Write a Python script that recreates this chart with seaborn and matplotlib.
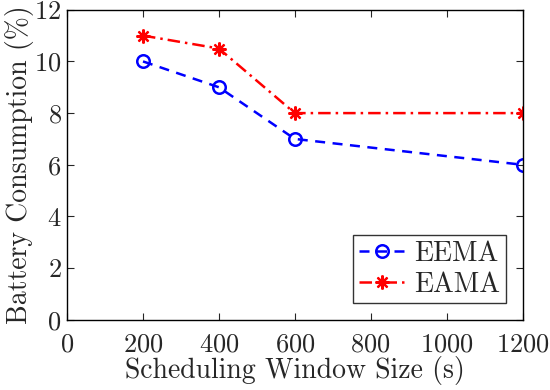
import matplotlib
matplotlib.use('Agg')
import matplotlib.pyplot as plt
import seaborn as sns
import pandas as pd

window = [200, 400, 600, 1200]
eema = [10, 9, 7, 6]
eama = [11, 10.5, 8, 8]

sns.set_style('ticks')
plt.rcParams['font.family'] = ['cmr10', 'DejaVu Serif']
plt.rcParams['mathtext.fontset'] = 'cm'
plt.rcParams['axes.formatter.use_mathtext'] = True

df = pd.DataFrame({'window': window * 2,
                   'value': eema + eama,
                   'method': ['EEMA'] * len(window) + ['EAMA'] * len(window)})

fig, ax = plt.subplots(figsize=(5.5, 3.9), dpi=100)
sns.lineplot(data=df[df.method == 'EEMA'], x='window', y='value', ax=ax,
             color='blue', linestyle=(0, (4, 3)), marker='o', markersize=9,
             markerfacecolor='none', markeredgecolor='blue', markeredgewidth=1.8,
             linewidth=1.8, label='EEMA')
sns.lineplot(data=df[df.method == 'EAMA'], x='window', y='value', ax=ax,
             color='red', linestyle=(0, (5, 2, 1, 2)), marker=(8, 2, 0), markersize=10,
             markeredgecolor='red', markeredgewidth=1.6, linewidth=1.8, label='EAMA')

ax.set_xlim(0, 1200)
ax.set_ylim(0, 12)
ax.set_xticks(range(0, 1201, 200))
ax.set_yticks(range(0, 13, 2))
ax.tick_params(direction='in', top=True, right=True, labelsize=19, length=5, width=0.8)
ax.tick_params(axis='x', pad=9)
ax.tick_params(axis='y', pad=4)
for s in ax.spines.values():
    s.set_linewidth(1.0)
    s.set_color('black')
ax.set_xlabel('Scheduling Window Size (s)', fontsize=20, labelpad=0)
ax.set_ylabel('Battery Consumption (%)', fontsize=20, labelpad=0)
leg = ax.legend(loc='lower right', fontsize=20, frameon=True, fancybox=False,
                edgecolor='black', handlelength=1.7, borderpad=0.2,
                labelspacing=0.15, handletextpad=0.3, borderaxespad=0.6)
leg.get_frame().set_linewidth(1.0)

fig.subplots_adjust(left=0.122, right=0.95, top=0.975, bottom=0.18)
fig.savefig('out.png')
